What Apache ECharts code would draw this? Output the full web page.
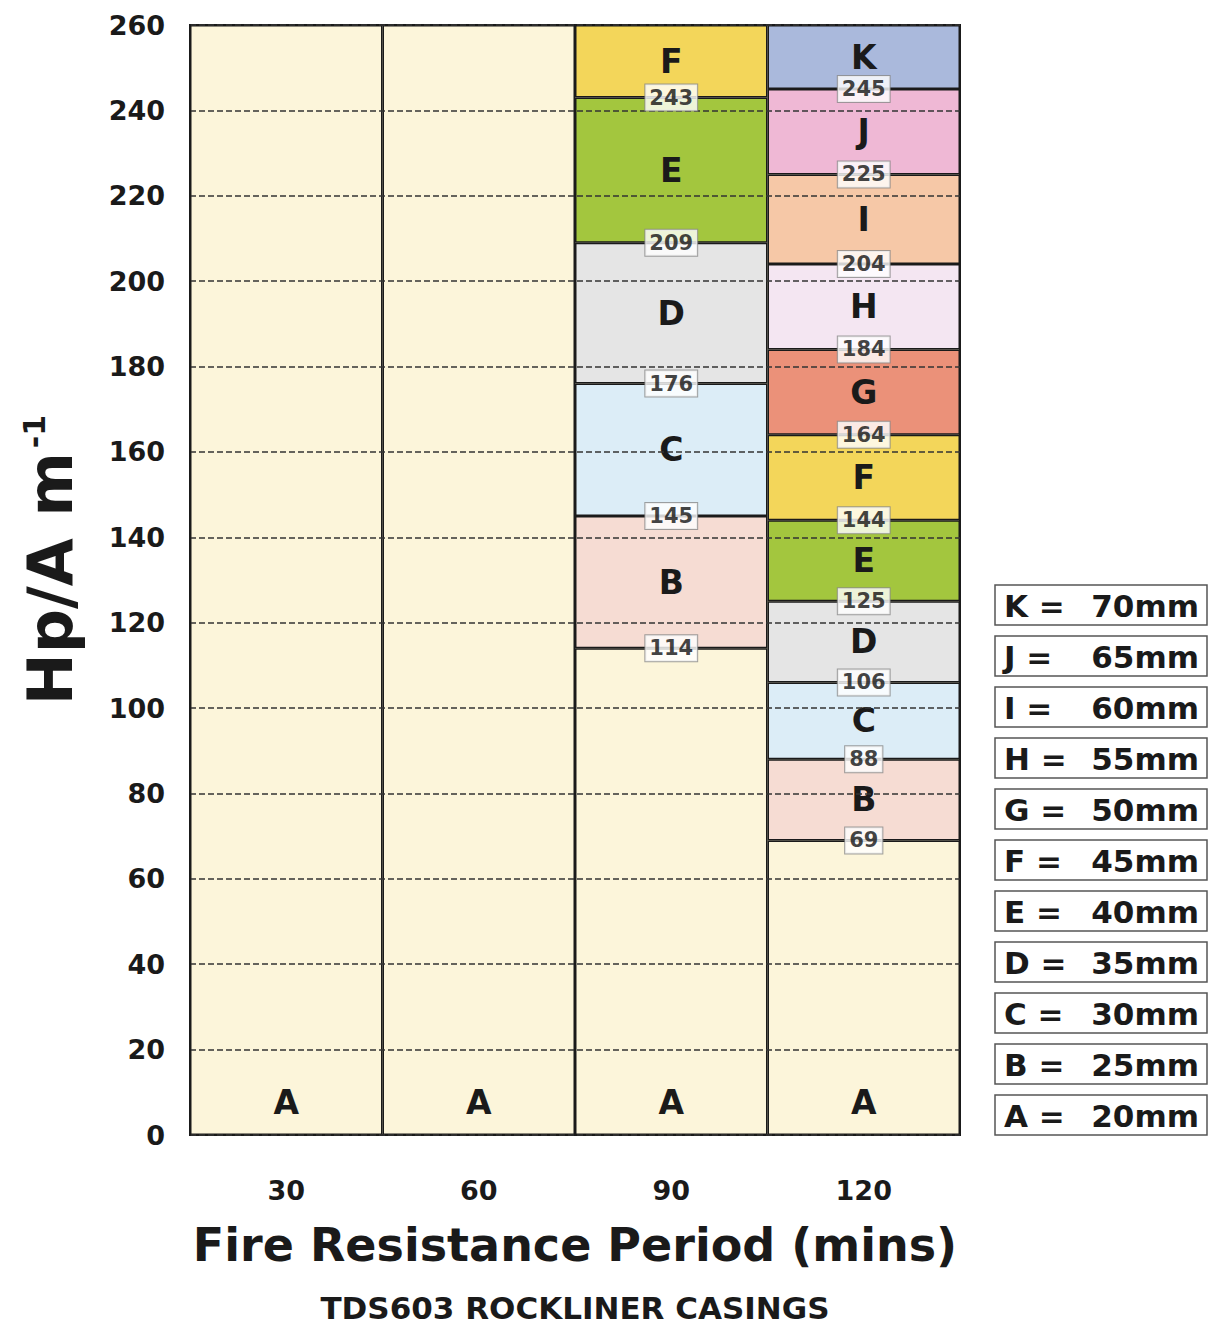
<!DOCTYPE html>
<html>
<head>
<meta charset="utf-8">
<script src="https://cdn.jsdelivr.net/npm/echarts@6/dist/echarts.min.js"></script>
<style>
  html, body { margin: 0; padding: 0; background: #fff; }
  #chart { width: 1210px; height: 1327px; }
</style>
</head>
<body>
<div id="chart"></div>
<script>
// fire resistance periods (x categories)
var periods = ['30', '60', '90', '120'];
// thickness bands
var letters = ['A', 'B', 'C', 'D', 'E', 'F', 'G', 'H', 'I', 'J', 'K'];
var thicknessMm = [20, 25, 30, 35, 40, 45, 50, 55, 60, 65, 70];
// upper Hp/A limit of each band per period
var bandTop30 = [260];
var bandTop60 = [260];
var bandTop90 = [114, 145, 176, 209, 243, 260];
var bandTop120 = [69, 88, 106, 125, 144, 164, 184, 204, 225, 245, 260];
var bandTops = [bandTop30, bandTop60, bandTop90, bandTop120];

var colours = ['#fcf5da', '#f6dcd3', '#dcedf7', '#e5e5e5', '#a3c63e', '#f3d65a',
               '#eb9179', '#f4e6f2', '#f6c8a7', '#efb8d5', '#aab9dc'];

var font = '"DejaVu Sans", sans-serif';
var ink = '#1a1a1a';

// stacked bar series, one per letter
var series = letters.map(function (l, i) {
    return {
        name: l,
        type: 'bar',
        stack: 'bands',
        barCategoryGap: '0%',
        itemStyle: { color: colours[i], borderColor: '#1a1a1a', borderWidth: 1.5 },
        label: {
            show: true,
            position: i === 0 ? 'insideBottom' : 'inside',
            distance: 16,
            formatter: l,
            fontFamily: font,
            fontWeight: 'bold',
            fontSize: 33,
            color: ink
        },
        data: bandTops.map(function (tops) {
            if (i >= tops.length) return null;
            return tops[i] - (i > 0 ? tops[i - 1] : 0);
        })
    };
});

// boundary value boxes
var boundaryPts = [];
bandTops.forEach(function (tops, p) {
    for (var k = 0; k < tops.length - 1; k++) boundaryPts.push([p, tops[k]]);
});
series.push({
    type: 'scatter',
    z: 20,
    symbolSize: 1,
    itemStyle: { color: 'transparent' },
    label: {
        show: true,
        position: 'inside',
        formatter: function (p) { return p.value[1]; },
        fontFamily: font,
        fontWeight: 'bold',
        fontSize: 21,
        color: '#111',
        backgroundColor: '#ffffff',
        borderColor: '#8a8a8a',
        borderWidth: 1,
        padding: [3, 4, 2, 4]
    },
    data: boundaryPts
});

// legend boxes on the right
var graphics = [];
for (var i = letters.length - 1; i >= 0; i--) {
    var y = 585 + (letters.length - 1 - i) * 51;
    graphics.push({
        type: 'rect',
        shape: { x: 995, y: y, width: 212, height: 40 },
        style: { fill: '#fff', stroke: '#555', lineWidth: 1.5 }
    });
    graphics.push({
        type: 'text',
        x: 1004, y: y + 21,
        style: { text: letters[i] + '\u00a0=', font: 'bold 31px ' + font, fill: ink,
                 align: 'left', verticalAlign: 'middle' }
    });
    graphics.push({
        type: 'text',
        x: 1199, y: y + 21,
        style: { text: thicknessMm[i] + 'mm', font: 'bold 31px ' + font, fill: ink,
                 align: 'right', verticalAlign: 'middle' }
    });
}
// y axis title with superscript
graphics.push({
    type: 'text',
    x: 50, y: 560,
    rotation: Math.PI / 2,
    style: {
        text: '{a|Hp/A m}{b|-1}',
        align: 'center', verticalAlign: 'middle',
        rich: {
            a: { font: 'bold 62px ' + font, fill: ink },
            b: { font: 'bold 30px ' + font, fill: ink, verticalAlign: 'top', padding: [0, 0, 30, 4] }
        }
    }
});
// caption
graphics.push({
    type: 'text',
    x: 575, y: 1308,
    style: { text: 'TDS603 ROCKLINER CASINGS', font: 'bold 31px ' + font, fill: ink,
             align: 'center', verticalAlign: 'middle' }
});

var chart = echarts.init(document.getElementById('chart'), null, { renderer: 'svg' });
chart.setOption({
    backgroundColor: '#ffffff',
    animation: false,
    grid: {
        left: 190, right: 250, top: 25, bottom: 192,
        show: true, backgroundColor: '#fcf5da', borderColor: '#1a1a1a', borderWidth: 2
    },
    xAxis: {
        type: 'category',
        data: periods,
        axisLine: { lineStyle: { color: '#1a1a1a', width: 2 } },
        axisTick: { show: false },
        axisLabel: { margin: 42, fontFamily: font, fontWeight: 'bold', fontSize: 27, color: ink },
        name: 'Fire Resistance Period (mins)',
        nameLocation: 'middle',
        nameGap: 87,
        nameTextStyle: { fontFamily: font, fontWeight: 'bold', fontSize: 46, color: ink }
    },
    yAxis: {
        type: 'value',
        min: 0, max: 260, interval: 20,
        z: 5,
        axisLine: { show: true, lineStyle: { color: '#1a1a1a', width: 2 } },
        axisTick: { show: false },
        splitLine: { show: true, lineStyle: { color: '#333', width: 1.5, type: [6, 3] } },
        axisLabel: { margin: 25, fontFamily: font, fontWeight: 'bold', fontSize: 27, color: ink }
    },
    graphic: graphics,
    series: series
});
</script>
</body>
</html>
